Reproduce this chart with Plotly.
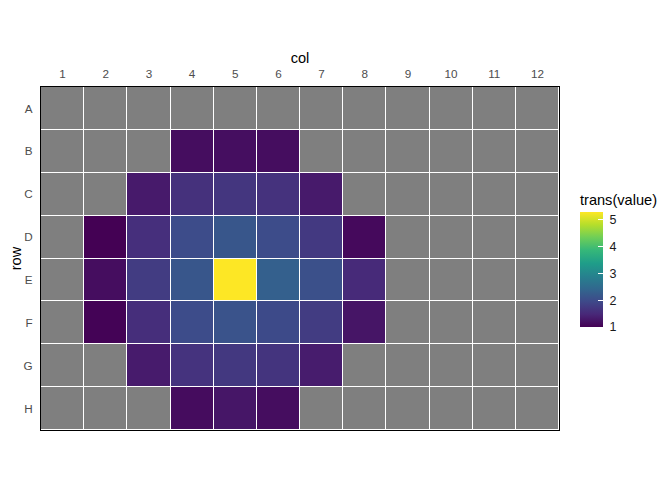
import plotly.graph_objects as go

rows = ["A", "B", "C", "D", "E", "F", "G", "H"]
cols = [str(i) for i in range(1, 13)]

# values per row (None = missing)
row_A = [None] * 12
row_B = [None, None, None, 1.15, 1.16, 1.14, None, None, None, None, None, None]
row_C = [None, None, 1.3, 1.6, 1.68, 1.62, 1.3, None, None, None, None, None]
row_D = [None, 1.0, 1.58, 2.0, 2.15, 2.0, 1.72, 1.1, None, None, None, None]
row_E = [None, 1.15, 1.76, 2.15, 5.27, 2.3, 2.06, 1.5, None, None, None, None]
row_F = [None, 1.02, 1.56, 2.0, 2.1, 1.97, 1.76, 1.24, None, None, None, None]
row_G = [None, None, 1.32, 1.63, 1.7, 1.65, 1.33, None, None, None, None, None]
row_H = [None, None, None, 1.13, 1.25, 1.15, None, None, None, None, None, None]

legend_ticks = [1, 2, 3, 4, 5]

z = [row_A, row_B, row_C, row_D, row_E, row_F, row_G, row_H]
bg = [[1 for _ in cols] for _ in rows]

font_family = "Liberation Sans, Arial, sans-serif"

fig = go.Figure()
fig.add_trace(go.Heatmap(
    x=cols, y=rows, z=bg,
    colorscale=[[0, "#7F7F7F"], [1, "#7F7F7F"]],
    showscale=False, xgap=1, ygap=1, hoverinfo="skip",
))
fig.add_trace(go.Heatmap(
    x=cols, y=rows, z=z,
    colorscale="Viridis", xgap=1, ygap=1,
    colorbar=dict(
        title=dict(text="trans(value)", side="top",
                   font=dict(size=14.6, color="black", family=font_family)),
        x=1.0405, xanchor="left", xref="paper",
        y=0.300, yanchor="bottom", yref="paper",
        thickness=23, len=136, lenmode="pixels",
        xpad=0, ypad=0, outlinewidth=0,
        tickvals=legend_ticks,
        ticktext=["\u00a0" + str(v) for v in legend_ticks],
        ticks="inside", ticklen=5, tickcolor="white", tickwidth=1,
        tickfont=dict(size=12.5, color="#1A1A1A", family=font_family),
    ),
))

fig.update_layout(
    width=672, height=480,
    margin=dict(l=33, r=121, t=79, b=58),
    plot_bgcolor="white", paper_bgcolor="white",
    font=dict(family=font_family),
    showlegend=False,
)
fig.update_xaxes(
    side="top", type="category", categoryorder="array", categoryarray=cols,
    title=dict(text="col", font=dict(size=14.6, color="black"), standoff=0),
    tickfont=dict(size=11.7, color="#4D4D4D"),
    ticks="", ticklabelstandoff=3,
    showgrid=False, zeroline=False,
    showline=True, linecolor="black", linewidth=1, mirror=True,
    automargin=False,
)
fig.update_yaxes(
    type="category", categoryorder="array", categoryarray=rows,
    autorange="reversed",
    title=dict(text="row", font=dict(size=14.6, color="black"), standoff=0),
    tickfont=dict(size=11.7, color="#4D4D4D"),
    ticks="", ticklabelstandoff=5,
    showgrid=False, zeroline=False,
    showline=True, linecolor="black", linewidth=1, mirror=True,
    automargin=False,
)

fig.write_html("out.html")
